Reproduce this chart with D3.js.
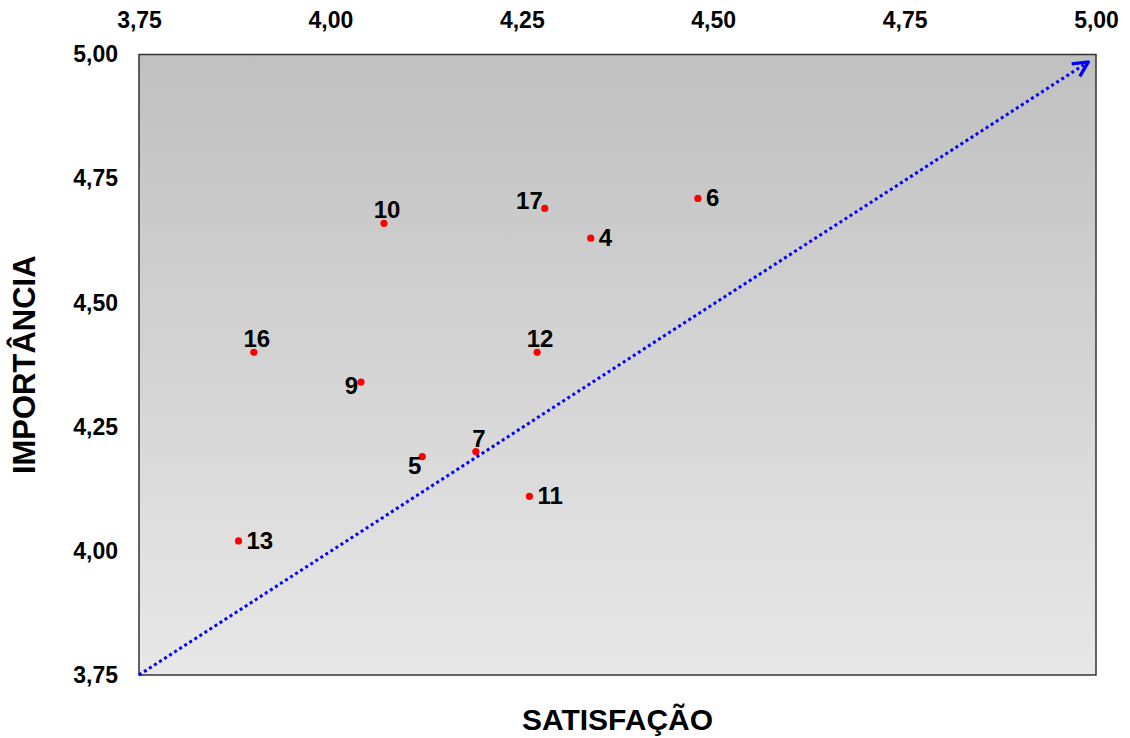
<!DOCTYPE html>
<html>
<head>
<meta charset="utf-8">
<script src="https://cdn.jsdelivr.net/npm/d3@7"></script>
<style>
  html, body { margin: 0; padding: 0; background: #fff; }
  svg { display: block; }
  text { font-family: "Liberation Sans", Arial, sans-serif; font-weight: bold; fill: #000; }
</style>
</head>
<body>
<svg id="chart" width="1130" height="738"></svg>
<script>
// Item numbers and their scores
const itemLabels   = ["6", "4", "17", "10", "16", "9", "12", "7", "5", "11", "13"];
const satisfaction = [4.48, 4.34, 4.28, 4.07, 3.90, 4.04, 4.27, 4.19, 4.12, 4.26, 3.88];
const importance   = [4.71, 4.63, 4.69, 4.66, 4.40, 4.34, 4.40, 4.20, 4.19, 4.11, 4.02];
// Where each item's number sits relative to its point
const labelPlacement = ["right", "right", "aboveLeft", "above", "above", "left", "above", "above", "belowLeft", "right", "right"];

// Axis ticks (both axes share the same scale)
const tickValues = [3.75, 4.00, 4.25, 4.50, 4.75, 5.00];
const axisDomain = [3.75, 5.00];

// Reference diagonal (satisfaction = importance), drawn as an arrow
const diagonalX = [3.75, 4.99];
const diagonalY = [3.75, 4.985];

const svg = d3.select("#chart");
const plot = { left: 139, right: 1096, top: 54.5, bottom: 675 };

const x = d3.scaleLinear().domain(axisDomain).range([plot.left, plot.right]);
const y = d3.scaleLinear().domain(axisDomain).range([plot.bottom, plot.top]);

const locale = d3.formatLocale({ decimal: ",", thousands: ".", grouping: [3], currency: ["", ""] });
const fmt = locale.format(".2f");

// Background gradient of the plotting area
const defs = svg.append("defs");
const grad = defs.append("linearGradient")
  .attr("id", "plotBg").attr("x1", 0).attr("y1", 0).attr("x2", 0).attr("y2", 1);
grad.append("stop").attr("offset", "0%").attr("stop-color", "#c0c0c0");
grad.append("stop").attr("offset", "100%").attr("stop-color", "#e8e8e8");

// Open arrowhead for the diagonal
defs.append("marker")
  .attr("id", "arrowHead")
  .attr("viewBox", "0 0 12 12")
  .attr("refX", 11).attr("refY", 6)
  .attr("markerWidth", 18).attr("markerHeight", 18)
  .attr("markerUnits", "userSpaceOnUse")
  .attr("orient", "auto")
  .append("path")
  .attr("d", "M1,1 L11,6 L1,11")
  .attr("fill", "none")
  .attr("stroke", "#0000ff")
  .attr("stroke-width", 2.2);

svg.append("rect")
  .attr("x", plot.left).attr("y", plot.top)
  .attr("width", plot.right - plot.left).attr("height", plot.bottom - plot.top)
  .attr("fill", "url(#plotBg)")
  .attr("stroke", "#333").attr("stroke-width", 1.5);

// Axes: labels only, along the top and the left side
const topAxis = svg.append("g")
  .attr("transform", `translate(0,${plot.top})`)
  .call(d3.axisTop(x).tickValues(tickValues).tickFormat(fmt).tickSize(0).tickPadding(27));
const leftAxis = svg.append("g")
  .attr("transform", `translate(${plot.left},0)`)
  .call(d3.axisLeft(y).tickValues(tickValues).tickFormat(fmt).tickSize(0).tickPadding(21));
[topAxis, leftAxis].forEach(g => {
  g.select(".domain").remove();
  g.selectAll("text")
    .attr("fill", "#000")
    .style("font-family", '"Liberation Sans", Arial, sans-serif')
    .style("font-weight", "bold")
    .style("font-size", "23px");
});

// Diagonal arrow
const diag = d3.line().x(d => x(d[0])).y(d => y(d[1]));
svg.append("path")
  .attr("d", diag(d3.zip(diagonalX, diagonalY)))
  .attr("fill", "none")
  .attr("stroke", "#0000ff")
  .attr("stroke-width", 3)
  .attr("stroke-dasharray", "3,3")
  .attr("marker-end", "url(#arrowHead)");

// Points
const items = itemLabels.map((label, i) => ({
  label, sx: satisfaction[i], im: importance[i], place: labelPlacement[i]
}));

svg.append("g").selectAll("circle")
  .data(items)
  .join("circle")
  .attr("cx", d => x(d.sx))
  .attr("cy", d => y(d.im))
  .attr("r", 3.6)
  .attr("fill", "#ff0000");

// Item numbers
const placeOffsets = {
  right:     { dx: 8,  dy: 8,   anchor: "start" },
  above:     { dx: 3,  dy: -5,  anchor: "middle" },
  aboveLeft: { dx: -2, dy: 1,   anchor: "end" },
  left:      { dx: -3, dy: 12,  anchor: "end" },
  belowLeft: { dx: -1, dy: 17,  anchor: "end" }
};

svg.append("g").selectAll("text")
  .data(items)
  .join("text")
  .attr("x", d => x(d.sx) + placeOffsets[d.place].dx)
  .attr("y", d => y(d.im) + placeOffsets[d.place].dy)
  .attr("text-anchor", d => placeOffsets[d.place].anchor)
  .style("font-size", "24px")
  .text(d => d.label);

// Axis titles
svg.append("text")
  .attr("x", (plot.left + plot.right) / 2)
  .attr("y", 730)
  .attr("text-anchor", "middle")
  .style("font-size", "30px")
  .text("SATISFAÇÃO");

svg.append("text")
  .attr("transform", `translate(35,${(plot.top + plot.bottom) / 2}) rotate(-90)`)
  .attr("text-anchor", "middle")
  .style("font-size", "31px")
  .text("IMPORTÂNCIA");
</script>
</body>
</html>
